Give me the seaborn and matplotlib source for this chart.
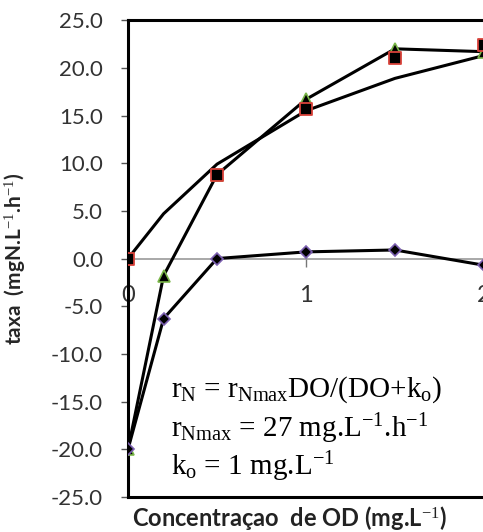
import matplotlib
matplotlib.use('Agg')
import matplotlib.pyplot as plt
import seaborn as sns
import pandas as pd

# data
od = [0, 0.2, 0.5, 1, 1.5, 2]
modelo = [0, 4.7, 9.9, 15.5, 18.9, 21.3]
serie_tri = [-20, -1.8, 8.8, 16.7, 22.0, 21.7]
serie_diam = [-20, -6.3, 0, 0.7, 0.9, -0.7]
od_quad = [0, 0.5, 1, 1.5, 2]
serie_quad = [0, 8.75, 15.7, 21.0, 22.4]
yticks = [-25, -20, -15, -10, -5, 0, 5, 10, 15, 20, 25]

sns.set_style('white')
plt.rcParams['font.family'] = ['Lato', 'DejaVu Sans']
plt.rcParams['mathtext.fontset'] = 'custom'
plt.rcParams['mathtext.rm'] = 'Liberation Serif'
plt.rcParams['mathtext.it'] = 'Liberation Serif:italic'

fig = plt.figure(figsize=(4.83, 5.32), dpi=100)
ax = fig.add_axes([0.265, 0.066, 0.737, 0.896])

df = pd.DataFrame({'od': od, 'modelo': modelo, 'tri': serie_tri, 'diam': serie_diam})
dq = pd.DataFrame({'od': od_quad, 'quad': serie_quad})

ax.axhline(0, color='#999999', lw=1.2, zorder=1)

sns.lineplot(data=df, x='od', y='modelo', ax=ax, color='black', lw=2.2, zorder=3)
sns.lineplot(data=df, x='od', y='tri', ax=ax, color='black', lw=2.2, marker='^',
             markersize=9, markerfacecolor='black', markeredgecolor='#7ab648',
             markeredgewidth=1.2, zorder=3)
sns.lineplot(data=df, x='od', y='diam', ax=ax, color='black', lw=2.2, marker='D',
             markersize=6, markerfacecolor='black', markeredgecolor='#7b5fb0',
             markeredgewidth=1.2, zorder=3)
sns.scatterplot(data=dq, x='od', y='quad', ax=ax, marker='s', s=80, color='black',
                edgecolor='#d9423a', linewidth=1.3, zorder=4)

ax.set_xlim(0, 2)
ax.set_ylim(-25, 25)
ax.set_yticks(yticks)
ax.set_yticklabels([f'{v:.1f}' for v in yticks], fontsize=16, color='#333333')
ax.tick_params(axis='y', direction='out', length=5, width=1, color='#555555', left=True, pad=13)
ax.set_xticks([])
ax.set_xlabel('')
ax.set_ylabel('taxa  (mgN.L$^{-1}$.h$^{-1}$)', fontsize=15, fontweight='bold')
ax.yaxis.set_label_coords(-0.285, 0.5)

for s in ['left', 'top', 'bottom']:
    ax.spines[s].set_linewidth(2.2)
    ax.spines[s].set_color('black')
ax.spines['right'].set_visible(False)

# x axis drawn on the zero line
sec = ax.secondary_xaxis(0.5)
sec.xaxis.set_ticks_position('bottom')
sec.set_xticks([0, 1, 2])
sec.set_xticklabels(['0', '1', '2'], fontsize=17, color='#333333')
sec.tick_params(axis='x', direction='inout', length=12, width=1, color='#777777', pad=13,
                bottom=True, top=False, labelbottom=True, labeltop=False)
for s in sec.spines.values():
    s.set_visible(False)

fig.text(0.6, 0.026, 'Concentraçao  de OD (mg.L$^{-1}$)', ha='center', va='center',
         fontsize=17, fontweight='bold', color='#222222')

txt = dict(fontsize=21, family='Liberation Serif', color='black', transform=ax.transAxes)
ax.text(0.12, 0.21, r'r$_{\mathrm{N}}$ = r$_{\mathrm{Nmax}}$DO/(DO+k$_{\mathrm{o}}$)', **txt)
ax.text(0.12, 0.125, r'r$_{\mathrm{Nmax}}$ = 27 mg.L$^{\mathrm{-1}}$.h$^{\mathrm{-1}}$', **txt)
ax.text(0.12, 0.045, r'k$_{\mathrm{o}}$ = 1 mg.L$^{\mathrm{-1}}$', **txt)

plt.savefig('out.png', dpi=100)
